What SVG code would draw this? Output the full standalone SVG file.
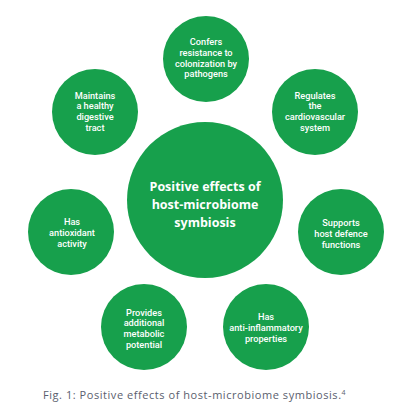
<svg xmlns="http://www.w3.org/2000/svg" width="415" height="415" viewBox="0 0 415 415">
<style>
.c{fill:#17a04c}
.s{font-family:Roboto,"Liberation Sans",sans-serif;font-weight:500;font-size:9.2px;fill:#fff;text-anchor:middle}
.m{font-family:"Open Sans","Liberation Sans",sans-serif;font-weight:700;font-size:12.5px;fill:#fff;text-anchor:middle}
.cap{font-family:"Open Sans","Liberation Sans",sans-serif;font-size:11px;letter-spacing:0.55px;fill:#5a5e6e}
</style>
<rect width="415" height="415" fill="#fff"/>
<g id="connectors"/>
<g id="center">
<circle class="c" cx="205" cy="200" r="78"/>
<text class="m"><tspan x="205" y="191">Positive effects of</tspan><tspan x="205" y="209">host-microbiome</tspan><tspan x="205" y="227">symbiosis</tspan></text>
</g>
<g id="n-top">
<circle class="c" cx="206" cy="59" r="43"/>
<text class="s"><tspan x="206" y="45">Confers</tspan><tspan x="206" y="55.8">resistance to</tspan><tspan x="206" y="66.6">colonization by</tspan><tspan x="206" y="77.4">pathogens</tspan></text>
</g>
<g id="n-topright">
<circle class="c" cx="315" cy="112" r="43"/>
<text class="s"><tspan x="315" y="98.5">Regulates</tspan><tspan x="315" y="109.3">the</tspan><tspan x="315" y="120.1">cardiovascular</tspan><tspan x="315" y="130.9">system</tspan></text>
</g>
<g id="n-right">
<circle class="c" cx="341" cy="232" r="43"/>
<text class="s"><tspan x="341" y="226">Supports</tspan><tspan x="341" y="236.8">host defence</tspan><tspan x="341" y="247.6">functions</tspan></text>
</g>
<g id="n-bottomright">
<circle class="c" cx="266" cy="327" r="43"/>
<text class="s"><tspan x="266" y="320">Has</tspan><tspan x="266" y="330.8">anti-inflammatory</tspan><tspan x="266" y="341.6">properties</tspan></text>
</g>
<g id="n-bottomleft">
<circle class="c" cx="144" cy="327" r="43"/>
<text class="s"><tspan x="144" y="315.5">Provides</tspan><tspan x="144" y="326.3">additional</tspan><tspan x="144" y="337.1">metabolic</tspan><tspan x="144" y="347.9">potential</tspan></text>
</g>
<g id="n-left">
<circle class="c" cx="71" cy="232" r="43"/>
<text class="s"><tspan x="72" y="225">Has</tspan><tspan x="72" y="235.8">antioxidant</tspan><tspan x="72" y="246.6">activity</tspan></text>
</g>
<g id="n-topleft">
<circle class="c" cx="95" cy="112" r="43"/>
<text class="s"><tspan x="95" y="98.5">Maintains</tspan><tspan x="95" y="109.3">a healthy</tspan><tspan x="95" y="120.1">digestive</tspan><tspan x="95" y="130.9">tract</tspan></text>
</g>
<text class="cap" x="43" y="399">Fig. 1: Positive effects of host-microbiome symbiosis.<tspan font-size="7" dy="-4">4</tspan></text>
</svg>
